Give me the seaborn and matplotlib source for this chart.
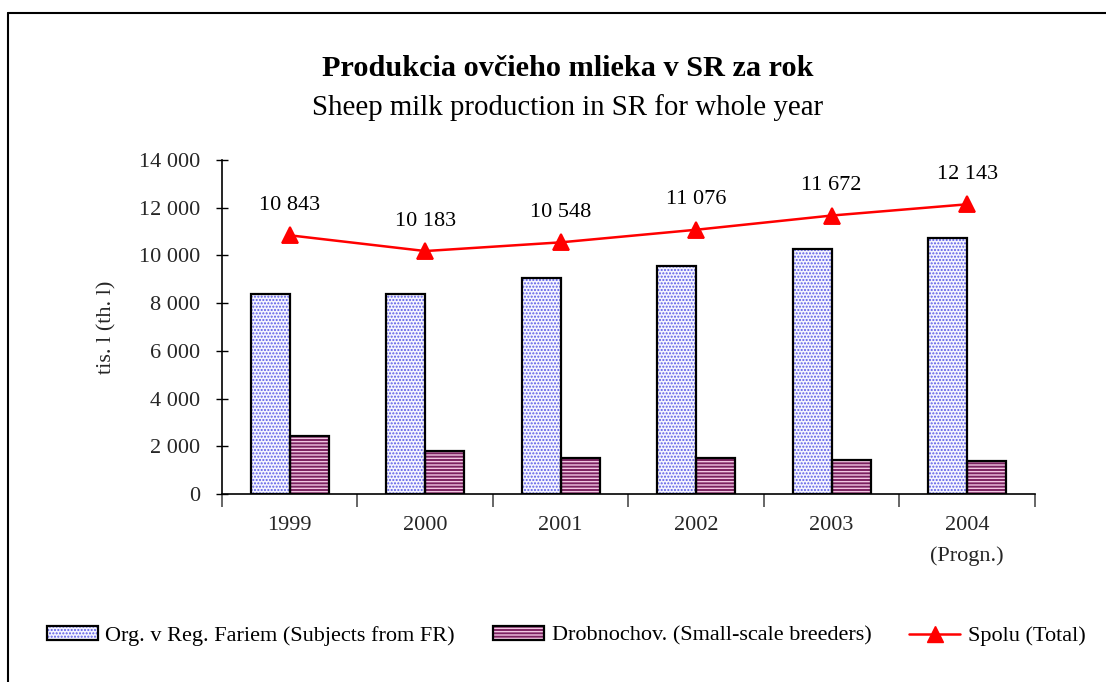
import pandas as pd
import matplotlib
matplotlib.use('Agg')
import matplotlib.pyplot as plt
from matplotlib.patches import Patch, Rectangle
from matplotlib.lines import Line2D
from matplotlib.legend_handler import HandlerTuple
import seaborn as sns

# údaje
years = ['1999', '2000', '2001', '2002', '2003', '2004\n(Progn.)']
org_fr = [8400, 8400, 9050, 9550, 10250, 10750]
small_breeders = [2443, 1783, 1498, 1526, 1422, 1393]
total = [10843, 10183, 10548, 11076, 11672, 12143]
y_ticks = [0, 2000, 4000, 6000, 8000, 10000, 12000, 14000]

lbl_fr = 'Org. v Reg. Fariem (Subjects from FR)'
lbl_small = 'Drobnochov. (Small-scale breeders)'
lbl_total = 'Spolu (Total)'

sns.set_style('white')
plt.rcParams['font.family'] = ['Liberation Serif', 'DejaVu Serif']
plt.rcParams['hatch.linewidth'] = 1.0
plt.rcParams['text.color'] = 'black'

df = pd.DataFrame({
    'year': years * 2,
    'value': org_fr + small_breeders,
    'series': [lbl_fr] * len(years) + [lbl_small] * len(years),
})
df_total = pd.DataFrame({'year': years, 'total': total})

fig = plt.figure(figsize=(11.06, 6.82), dpi=100)
ax = fig.add_axes([0.2007, 0.2757, 0.7350, 0.4897])

sns.barplot(data=df, x='year', y='value', hue='series', order=years,
            hue_order=[lbl_fr, lbl_small], width=0.575, gap=0,
            palette=['#f5f5ff', '#7b2160'], legend=False, ax=ax)

styles = [
    dict(face='#f5f5ff', hatch='.....', hcol='#5a5ae6'),
    dict(face='#7b2160', hatch='-----', hcol='#f2c6e2'),
]
for cont, st in zip(ax.containers, styles):
    for bar in cont:
        bar.set_facecolor(st['face'])
        bar.set_hatch(st['hatch'])
        bar.set_edgecolor(st['hcol'])
        bar.set_linewidth(0)
        ax.add_patch(Rectangle((bar.get_x(), bar.get_y()), bar.get_width(),
                               bar.get_height(), fill=False, edgecolor='black',
                               linewidth=1.6, zorder=bar.get_zorder() + 0.1))

sns.pointplot(data=df_total, x='year', y='total', order=years, color='#ff0000',
              markers='^', markersize=11, linewidth=1.8, errorbar=None, ax=ax)

for i, v in enumerate(total):
    ax.annotate(f'{v:,}'.replace(',', ' '), (i, v), xytext=(0, 21.5),
                textcoords='offset points', ha='center', va='center', fontsize=16)

ax.set_xlim(-0.5, len(years) - 0.5)
ax.set_ylim(0, 14000)
ax.set_yticks(y_ticks)
ax.set_yticklabels([f'{t:,}'.replace(',', ' ') for t in y_ticks], fontsize=16)
ax.set_xticks(range(len(years)))
ax.set_xticklabels(years, fontsize=16, linespacing=1.75)
ax.set_xticks([i - 0.5 for i in range(len(years) + 1)], minor=True)
ax.tick_params(axis='x', which='major', length=0, pad=16)
ax.tick_params(axis='x', which='minor', length=9, width=1.4, color='#666666',
               direction='out', bottom=True)
ax.tick_params(axis='y', which='major', length=8, width=1.0, color='black',
               direction='inout', pad=12, left=True)
ax.set_xlabel('')
ax.set_ylabel('tis. l (th. l)', fontsize=16, labelpad=16)

for s in ['top', 'right']:
    ax.spines[s].set_visible(False)
for s in ['left', 'bottom']:
    ax.spines[s].set_color('black')
    ax.spines[s].set_linewidth(1.2)

fig.text(0.513, 0.899, 'Produkcia ovčieho mlieka v SR za rok', ha='center',
         va='center', fontsize=21.8, fontweight='bold')
fig.text(0.513, 0.843, 'Sheep milk production in SR for whole year', ha='center',
         va='center', fontsize=20.8)

h_fr = (Patch(facecolor='#f5f5ff', hatch='.....', edgecolor='#5a5ae6', linewidth=0),
        Patch(fill=False, edgecolor='black', linewidth=1.6))
h_small = (Patch(facecolor='#7b2160', hatch='-----', edgecolor='#f2c6e2', linewidth=0),
           Patch(fill=False, edgecolor='black', linewidth=1.6))
h_total = Line2D([], [], color='#ff0000', marker='^', markersize=11, linewidth=1.8)
fig.legend([h_fr, h_small, h_total], [lbl_fr, lbl_small, lbl_total],
           handler_map={tuple: HandlerTuple(ndivide=1)}, loc='center',
           bbox_to_anchor=(0.512, 0.0675), ncol=3, frameon=False, fontsize=16,
           handlelength=2.3, handleheight=0.55, handletextpad=0.35, columnspacing=1.7)

# rámik
fig.add_artist(Line2D([0.0072, 0.0072], [0.981, 0.0], color='black', linewidth=1.5,
                      transform=fig.transFigure))
fig.add_artist(Line2D([0.0072, 1.0], [0.981, 0.981], color='black', linewidth=1.5,
                      transform=fig.transFigure))

fig.savefig('out.png', dpi=100)
